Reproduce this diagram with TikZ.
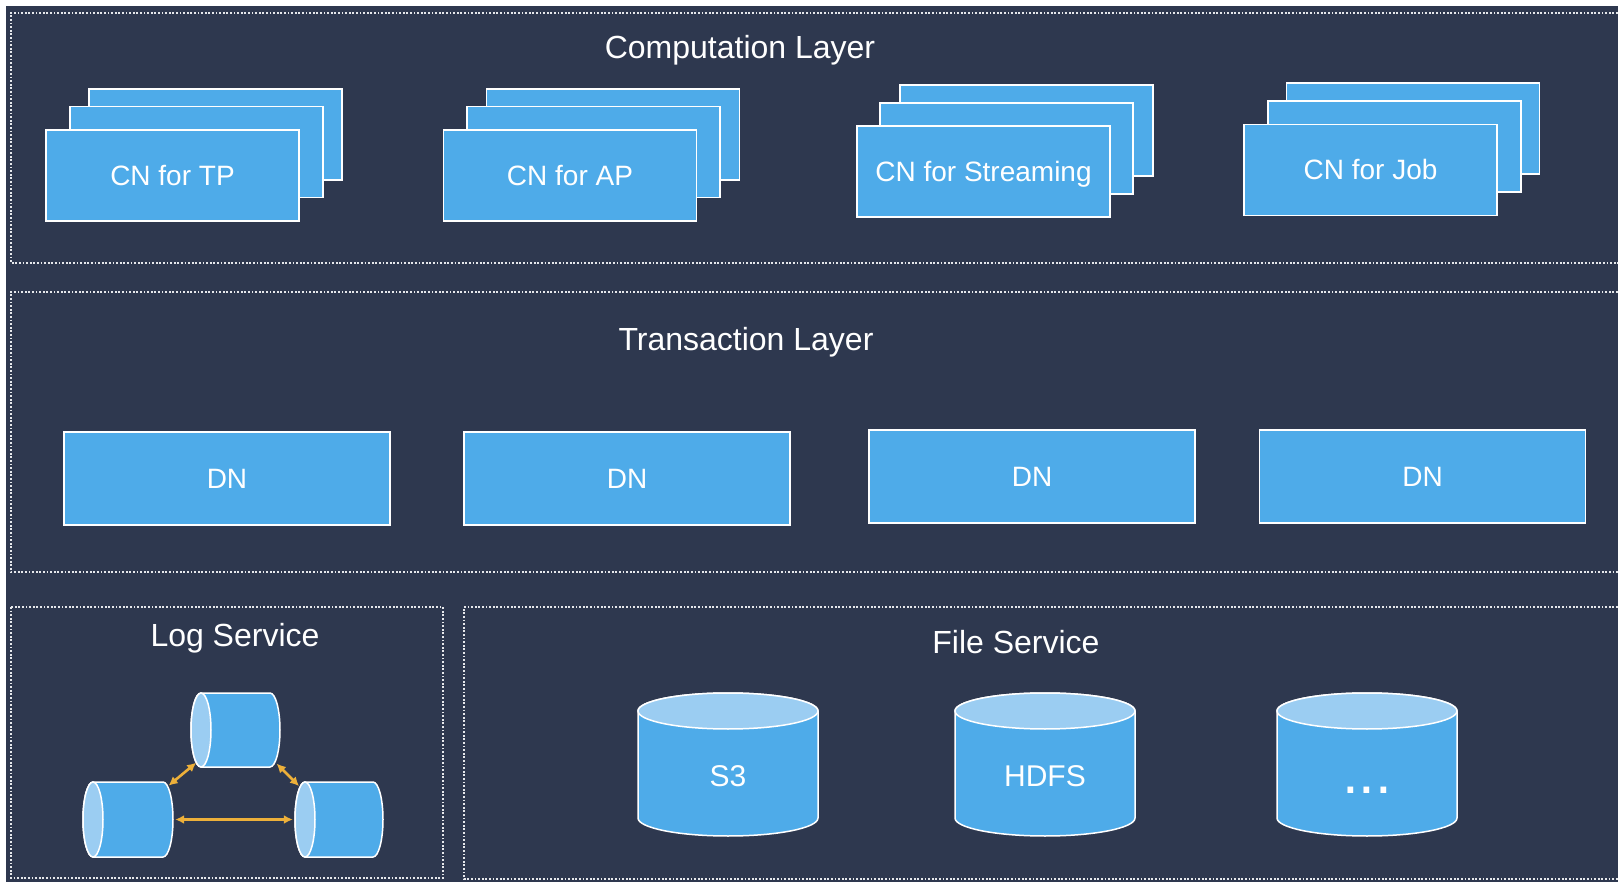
\documentclass[tikz,border=0pt]{standalone}
\usepackage{fontspec}
\setmainfont{Liberation Sans}
\usetikzlibrary{arrows.meta}
\definecolor{bgnavy}{HTML}{2E384F}
\definecolor{boxblue}{HTML}{4EABE9}
\definecolor{cyltop}{HTML}{9BCDF2}
\definecolor{linkgold}{HTML}{EDB03A}
\definecolor{dotline}{HTML}{E6E8EC}
\begin{document}
\begin{tikzpicture}[x=1pt,y=-1pt,
  layerbox/.style={draw=dotline, line width=1.4pt, dash pattern=on 1.8pt off 1.8pt},
  layertitle/.style={text=white, font=\fontsize{32}{36}\selectfont, anchor=base, inner sep=0pt},
  cnbox/.style={draw=white, line width=1.2pt, fill=boxblue, minimum width=253pt, minimum height=91pt, inner sep=0pt, text=white, font=\fontsize{28}{32}\selectfont, text height=20pt, text depth=0pt},
  dnbox/.style={cnbox, minimum width=326pt, minimum height=93pt},
  cylbody/.style={draw=white, line width=1.5pt, fill=boxblue},
  cyltopfill/.style={draw=white, line width=1.5pt, fill=cyltop},
  cyllabel/.style={text=white, font=\fontsize{30}{34}\selectfont, inner sep=0pt, text height=21.5pt, text depth=0pt},
  cylhit/.style={inner sep=0pt, draw=none},
  logarrow/.style={draw=linkgold, line width=2.6pt, <->, >={Latex[length=9pt,width=9pt]}}
]
\useasboundingbox (0,0) rectangle (1618,882);
\clip (0,0) rectangle (1618,882);
\fill[white] (0,0) rectangle (1618,882);
\fill[bgnavy] (6,6) rectangle (1620,884);

% layer frames
\draw[layerbox] (1625,13) -- (11,13) -- (11,263) -- (1625,263);
\draw[layerbox] (1625,292) -- (11,292) -- (11,572) -- (1625,572);
\draw[layerbox] (11,607) rectangle (443,878);
\draw[layerbox] (1625,607) -- (464,607) -- (464,879) -- (1625,879);

% titles
\node[layertitle] (comptitle) at (740,59) {Computation Layer};
\node[layertitle] (txtitle) at (746,351) {Transaction Layer};
\node[layertitle] (logtitle) at (235,646) {Log Service};
\node[layertitle] (filetitle) at (1016,653) {File Service};

% CN stacks
\node[cnbox] (tpback) at (215.5,134.5) {};
\node[cnbox] (tpmid) at (196.5,152) {};
\node[cnbox] (tpfront) at (172.5,175.5) {CN for TP};

\node[cnbox] (apback) at (613,134.5) {};
\node[cnbox] (apmid) at (593.5,152) {};
\node[cnbox] (apfront) at (570,175.5) {CN for AP};

\node[cnbox] (stback) at (1026.5,130.5) {};
\node[cnbox] (stmid) at (1006.5,148.5) {};
\node[cnbox] (stfront) at (983.5,171.5) {CN for Streaming};

\node[cnbox] (jobback) at (1413,128.5) {};
\node[cnbox] (jobmid) at (1394.5,146.5) {};
\node[cnbox] (jobfront) at (1370.5,170) {CN for Job};

% DN boxes
\node[dnbox] (dn1) at (227,478.5) {DN};
\node[dnbox] (dn2) at (627,478.5) {DN};
\node[dnbox] (dn3) at (1032,476.5) {DN};
\node[dnbox] (dn4) at (1422.5,476.5) {DN};

% file service cylinders
\draw[cylbody] (638,711) -- (638,818) arc[start angle=180,end angle=0,x radius=90,y radius=18] -- (818,711) arc[start angle=0,end angle=-180,x radius=90,y radius=18] -- cycle;
\draw[cyltopfill] (728,711) ellipse[x radius=90,y radius=18];
\node[cyllabel] (s3) at (728,776) {S3};

\draw[cylbody] (955,711) -- (955,818) arc[start angle=180,end angle=0,x radius=90,y radius=18] -- (1135,711) arc[start angle=0,end angle=-180,x radius=90,y radius=18] -- cycle;
\draw[cyltopfill] (1045,711) ellipse[x radius=90,y radius=18];
\node[cyllabel] (hdfs) at (1045,776) {HDFS};

\draw[cylbody] (1277,711) -- (1277,818) arc[start angle=180,end angle=0,x radius=90,y radius=18] -- (1457,711) arc[start angle=0,end angle=-180,x radius=90,y radius=18] -- cycle;
\draw[cyltopfill] (1367,711) ellipse[x radius=90,y radius=18];
\node[text=white, font=\fontsize{60}{64}\selectfont, inner sep=0pt, anchor=base] (more) at (1367,793) {...};

% log service cylinders
\draw[cylbody] (201,693) -- (270,693) arc[start angle=-90,end angle=90,x radius=10,y radius=37] -- (201,767) arc[start angle=90,end angle=270,x radius=10,y radius=37] -- cycle;
\draw[cyltopfill] (201,730) ellipse[x radius=10,y radius=37];

\draw[cylbody] (93,782) -- (163,782) arc[start angle=-90,end angle=90,x radius=10,y radius=37.5] -- (93,857) arc[start angle=90,end angle=270,x radius=10,y radius=37.5] -- cycle;
\draw[cyltopfill] (93,819.5) ellipse[x radius=10,y radius=37.5];

\draw[cylbody] (305,782) -- (373,782) arc[start angle=-90,end angle=90,x radius=10,y radius=37.5] -- (305,857) arc[start angle=90,end angle=270,x radius=10,y radius=37.5] -- cycle;
\draw[cyltopfill] (305,819.5) ellipse[x radius=10,y radius=37.5];

\node[cylhit, minimum width=89pt, minimum height=74pt] (logtop) at (235.5,730) {};
\node[cylhit, minimum width=90pt, minimum height=75pt] (logleft) at (128,819.5) {};
\node[cylhit, minimum width=88pt, minimum height=75pt] (logright) at (339,819.5) {};

\draw[logarrow, shorten <=-6pt, shorten >=-7pt] (logleft.north east) -- (logtop.south west);
\draw[logarrow, shorten <=-5pt, shorten >=-6pt] (logtop.south east) -- (logright.north west);
\draw[logarrow, shorten <=2pt, shorten >=2pt] (logleft.east) -- (logright.west);
\end{tikzpicture}
\end{document}
